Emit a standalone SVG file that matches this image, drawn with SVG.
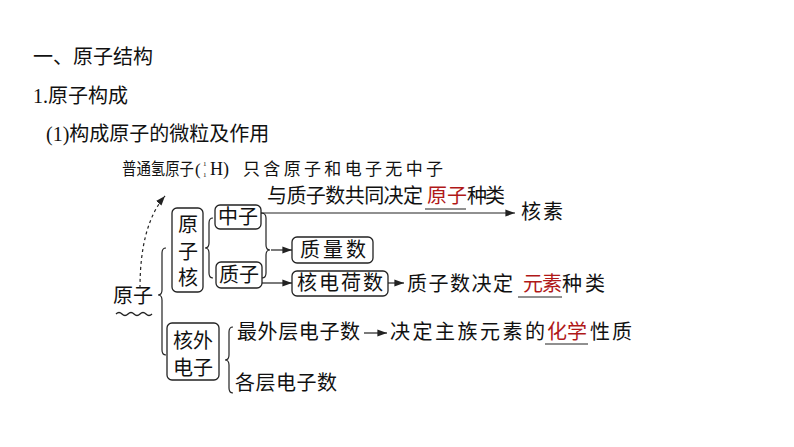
<svg xmlns="http://www.w3.org/2000/svg" width="794" height="447" viewBox="0 0 794 447">
<style>
text{font-family:"Liberation Serif","Noto Sans CJK SC",serif;font-size:20px;fill:#111}
.s{font-size:17px}
.b{fill:none;stroke:#222;stroke-width:1.3}
.r{fill:#b01818}
.u{stroke:#222;stroke-width:1.2}
</style>
<defs><marker id="a" markerWidth="8" markerHeight="6" refX="8" refY="3" orient="auto"><path d="M0,0L8,3L0,6z" fill="#222"/></marker></defs>
<rect width="794" height="447" fill="#fff"/>
<g id="titles">
<text x="33" y="64">一、原子结构</text>
<text x="33" y="103">1.原子构成</text>
<text x="46" y="141">(1)构成原子的微粒及作用</text>
<text class="s" x="122" y="175" textLength="72" lengthAdjust="spacingAndGlyphs">普通氢原子</text>
<text x="195" y="175" style="font-size:17px">(</text>
<text x="203" y="166" style="font-size:7px">1</text>
<text x="203" y="177" style="font-size:7px">1</text>
<text x="210" y="175" style="font-size:18px">H)</text>
<text class="s" x="243" y="175" textLength="200" lengthAdjust="spacing">只含原子和电子无中子</text>
</g>
<g id="atom"><text x="113" y="303">原子</text><path class="b" d="M116,314 q3,-3 6,0 t6,0 t6,0 t6,0 t6,0 t6,0"/></g>
<g id="nucleus"><rect class="b" x="172" y="208" width="31" height="84" rx="5"/><text x="178" y="232">原</text><text x="178" y="259">子</text><text x="178" y="285">核</text></g>
<g id="neutron"><rect class="b" x="215" y="205" width="46" height="24" rx="5"/><text x="218" y="224">中子</text></g>
<g id="proton"><rect class="b" x="216" y="262" width="46" height="26" rx="5"/><text x="219" y="282">质子</text></g>
<g id="mass"><rect class="b" x="292" y="237" width="81" height="26" rx="5"/><text x="300" y="257" textLength="66">质量数</text></g>
<g id="charge"><rect class="b" x="292" y="271" width="96" height="25" rx="5"/><text x="297" y="290" textLength="86">核电荷数</text></g>
<g id="electrons"><rect class="b" x="167" y="323" width="52" height="57" rx="5"/><text x="173" y="348">核外</text><text x="173" y="375">电子</text></g>
<g id="labels">
<text x="267" y="203" textLength="156">与质子数共同决定</text>
<text class="r" x="427" y="203" textLength="40">原子</text>
<text x="467" y="203" textLength="38">种类</text>
<line class="u" x1="425" y1="209" x2="466" y2="209"/>
<text x="521" y="219" textLength="42">核素</text>
<text x="407" y="291" textLength="106">质子数决定</text>
<text class="r" x="523" y="291" textLength="39">元素</text>
<text x="562" y="291" textLength="43">种类</text>
<line class="u" x1="518" y1="297" x2="562" y2="297"/>
<text x="237" y="339" textLength="123">最外层电子数</text>
<text x="390" y="339" textLength="155">决定主族元素的</text>
<text class="r" x="547" y="339" textLength="40">化学</text>
<text x="590" y="339" textLength="42">性质</text>
<line class="u" x1="545" y1="344" x2="588" y2="344"/>
<text x="235" y="390" textLength="102">各层电子数</text>
</g>
<g id="connectors" fill="none" stroke="#222" stroke-width="1.2">
<path d="M140,288 Q140,225 165,196" stroke-dasharray="3,3" marker-end="url(#a)"/>
<path d="M166,248 q-4,0 -4,5 v37 q0,5 -4,5 q4,0 4,5 v50 q0,5 4,5"/>
<path d="M213,218 q-4,0 -4,5 v20 q0,5 -4,5 q4,0 4,5 v20 q0,5 4,5"/>
<path d="M261,213 q5,0 5,5 v27 q0,5 4,5 q-4,0 -4,5 v18 q0,5 -4,5"/>
<path d="M261,213 H515" marker-end="url(#a)"/>
<path d="M271,250 H292" marker-end="url(#a)"/>
<path d="M262,283 H292" marker-end="url(#a)"/>
<path d="M388,283 H404" marker-end="url(#a)"/>
<path d="M364,333 H387" marker-end="url(#a)"/>
<path d="M233,327 q-4,0 -4,5 v23 q0,5 -4,5 q4,0 4,5 v23 q0,5 4,5"/>
</g>
</svg>
